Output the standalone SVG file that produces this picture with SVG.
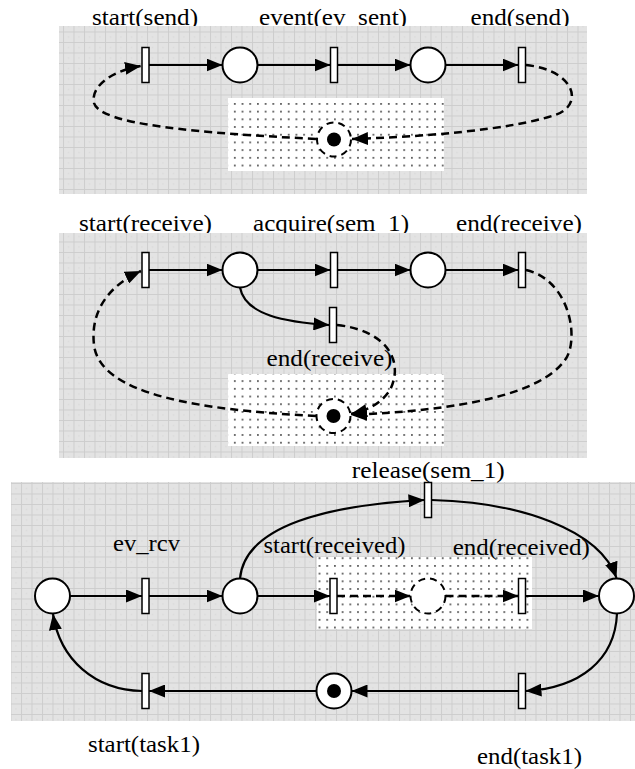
<svg xmlns="http://www.w3.org/2000/svg" width="635" height="769" viewBox="0 0 635 769">
<style>
.lbl{font-family:"Liberation Serif","Times New Roman",serif;font-size:24px;fill:#000;text-anchor:middle}
.tr{fill:#fff;stroke:#000;stroke-width:1.5}
.pl{fill:#fff;stroke:#000;stroke-width:2}
.pld{fill:#fff;stroke:#000;stroke-width:2;stroke-dasharray:7 5}
.arc{fill:none;stroke:#000;stroke-width:2.2;marker-end:url(#ah)}
.darc{fill:none;stroke:#000;stroke-width:2.5;stroke-dasharray:8 5;marker-end:url(#ah)}
.panel{fill:url(#grid)}
.dots{fill:url(#dot)}
</style>
<defs>
<pattern id="grid" patternUnits="userSpaceOnUse" x="0" y="0" width="10.5" height="10.5">
<rect width="10.5" height="10.5" fill="#e3e3e3"/>
<path d="M0,0.5 H10.5 M0.5,0 V10.5" stroke="#cdcdcd" stroke-width="1" fill="none"/>
<rect x="5" y="5" width="1" height="1" fill="#d2d2d2"/>
</pattern>
<pattern id="dot" patternUnits="userSpaceOnUse" x="0" y="0" width="7.7" height="7.7">
<rect width="7.7" height="7.7" fill="#fff"/>
<rect x="3" y="3" width="1.6" height="1.6" fill="#333"/>
</pattern>
<marker id="ah" markerUnits="userSpaceOnUse" markerWidth="17" markerHeight="13" refX="16" refY="6.5" orient="auto">
<path d="M0,0 L16,6.5 L0,13 z" fill="#000"/>
</marker>
</defs>

<!-- labels under panels -->
<text class="lbl" x="145" y="25" textLength="106" lengthAdjust="spacingAndGlyphs">start(send)</text>
<text class="lbl" x="333" y="25" textLength="148" lengthAdjust="spacingAndGlyphs">event(ev_sent)</text>
<text class="lbl" x="520" y="25" textLength="99" lengthAdjust="spacingAndGlyphs">end(send)</text>
<text class="lbl" x="145.5" y="231" textLength="133" lengthAdjust="spacingAndGlyphs">start(receive)</text>
<text class="lbl" x="331" y="231" textLength="156" lengthAdjust="spacingAndGlyphs">acquire(sem_1)</text>
<text class="lbl" x="519" y="231" textLength="126" lengthAdjust="spacingAndGlyphs">end(receive)</text>

<!-- panels -->
<rect class="panel" x="59" y="26" width="528" height="168"/>
<rect class="dots" x="228" y="98" width="216" height="73"/>
<rect class="panel" x="59" y="233" width="528" height="225"/>
<rect class="dots" x="228" y="374" width="216" height="72"/>
<rect class="panel" x="11" y="482" width="624" height="239"/>
<rect class="dots" x="317" y="557" width="215" height="72"/>

<text class="lbl" x="329.5" y="366" textLength="126" lengthAdjust="spacingAndGlyphs">end(receive)</text>
<text class="lbl" x="428.3" y="478" textLength="153" lengthAdjust="spacingAndGlyphs">release(sem_1)</text>
<text class="lbl" x="146.5" y="551" textLength="67" lengthAdjust="spacingAndGlyphs">ev_rcv</text>
<text class="lbl" x="334.5" y="553" textLength="142" lengthAdjust="spacingAndGlyphs">start(received)</text>
<text class="lbl" x="521.3" y="555" textLength="137" lengthAdjust="spacingAndGlyphs">end(received)</text>
<text class="lbl" x="144" y="752" textLength="112" lengthAdjust="spacingAndGlyphs">start(task1)</text>
<text class="lbl" x="529.5" y="764" textLength="105" lengthAdjust="spacingAndGlyphs">end(task1)</text>

<g id="connectors">
<!-- panel 1 -->
<path class="arc" d="M149,65 H222.5"/>
<path class="arc" d="M257.5,65 H330.5"/>
<path class="arc" d="M337.5,65 H410.5"/>
<path class="arc" d="M445.5,65 H518.5"/>
<path class="darc" d="M526,65 C575,70 585,105 555,115 C510,130 420,137 352,139"/>
<path class="darc" d="M316,139 C200,133 100,125 94,103 C90,85 115,70 141,66"/>
<!-- panel 2 -->
<path class="arc" d="M149,270 H222.5"/>
<path class="arc" d="M257.5,270 H330.5"/>
<path class="arc" d="M337.5,270 H410.5"/>
<path class="arc" d="M445.5,270 H518.5"/>
<path class="arc" d="M240,287.5 C245,315 285,322 329.5,325"/>
<path class="darc" d="M337,325 C385,330 405,360 390,390 C382,402 370,410 351,414"/>
<path class="darc" d="M526,270 C570,280 580,340 565,360 C540,395 460,410 351,415"/>
<path class="darc" d="M316,416 C200,410 100,395 94,345 C90,310 110,285 141,271"/>
<!-- panel 3 -->
<path class="arc" d="M70,596 H142"/>
<path class="arc" d="M149,596 H222.5"/>
<path class="arc" d="M257.5,596 H330"/>
<path class="darc" d="M337,596 H410.5"/>
<path class="darc" d="M445.5,596 H518.5"/>
<path class="arc" d="M525.5,596 H599"/>
<path class="arc" d="M240,578.5 C245,525 330,505 424.5,500"/>
<path class="arc" d="M431.5,500 C520,502 600,530 616.5,578"/>
<path class="arc" d="M617,613.5 C615,660 580,688 525.5,691"/>
<path class="arc" d="M518.5,691 H351.5"/>
<path class="arc" d="M316.5,691 H149"/>
<path class="arc" d="M142,691 C95,690 60,660 53,614"/>
</g>

<!-- panel 1 nodes -->
<g id="p1_start_send"><rect class="tr" x="142" y="47.5" width="7" height="35"/></g>
<g id="p1_place1"><circle class="pl" cx="240" cy="65" r="17.5"/></g>
<g id="p1_event"><rect class="tr" x="330.5" y="47.5" width="7" height="35"/></g>
<g id="p1_place2"><circle class="pl" cx="428" cy="65" r="17.5"/></g>
<g id="p1_end_send"><rect class="tr" x="518.5" y="47.5" width="7" height="35"/></g>
<g id="p1_token"><circle class="pld" cx="334" cy="139.5" r="17"/><circle cx="334" cy="139.5" r="7" fill="#000"/></g>

<!-- panel 2 nodes -->
<g id="p2_start_receive"><rect class="tr" x="142" y="252.5" width="7" height="35"/></g>
<g id="p2_place1"><circle class="pl" cx="240" cy="270" r="17.5"/></g>
<g id="p2_acquire"><rect class="tr" x="330.5" y="252.5" width="7" height="35"/></g>
<g id="p2_place2"><circle class="pl" cx="428" cy="270" r="17.5"/></g>
<g id="p2_end_receive"><rect class="tr" x="518.5" y="252.5" width="7" height="35"/></g>
<g id="p2_end_receive2"><rect class="tr" x="329.5" y="307.5" width="7" height="35"/></g>
<g id="p2_token"><circle class="pld" cx="333.5" cy="416" r="17"/><circle cx="333.5" cy="416" r="7" fill="#000"/></g>

<!-- panel 3 nodes -->
<g id="p3_placeA"><circle class="pl" cx="52.5" cy="596" r="17.5"/></g>
<g id="p3_ev_rcv"><rect class="tr" x="142" y="578.5" width="7" height="35"/></g>
<g id="p3_placeB"><circle class="pl" cx="240" cy="596" r="17.5"/></g>
<g id="p3_start_received"><rect class="tr" x="330" y="578.5" width="7" height="35"/></g>
<g id="p3_place_dashed"><circle class="pld" cx="428" cy="596" r="17.5"/></g>
<g id="p3_end_received"><rect class="tr" x="518.5" y="578.5" width="7" height="35"/></g>
<g id="p3_placeC"><circle class="pl" cx="616.5" cy="596" r="17.5"/></g>
<g id="p3_release"><rect class="tr" x="424.5" y="482.5" width="7" height="35"/></g>
<g id="p3_end_task1"><rect class="tr" x="518.5" y="673.5" width="7" height="35"/></g>
<g id="p3_token_place"><circle class="pl" cx="334" cy="691" r="17.5"/><circle cx="334" cy="691" r="7" fill="#000"/></g>
<g id="p3_start_task1"><rect class="tr" x="142" y="673.5" width="7" height="35"/></g>
</svg>
